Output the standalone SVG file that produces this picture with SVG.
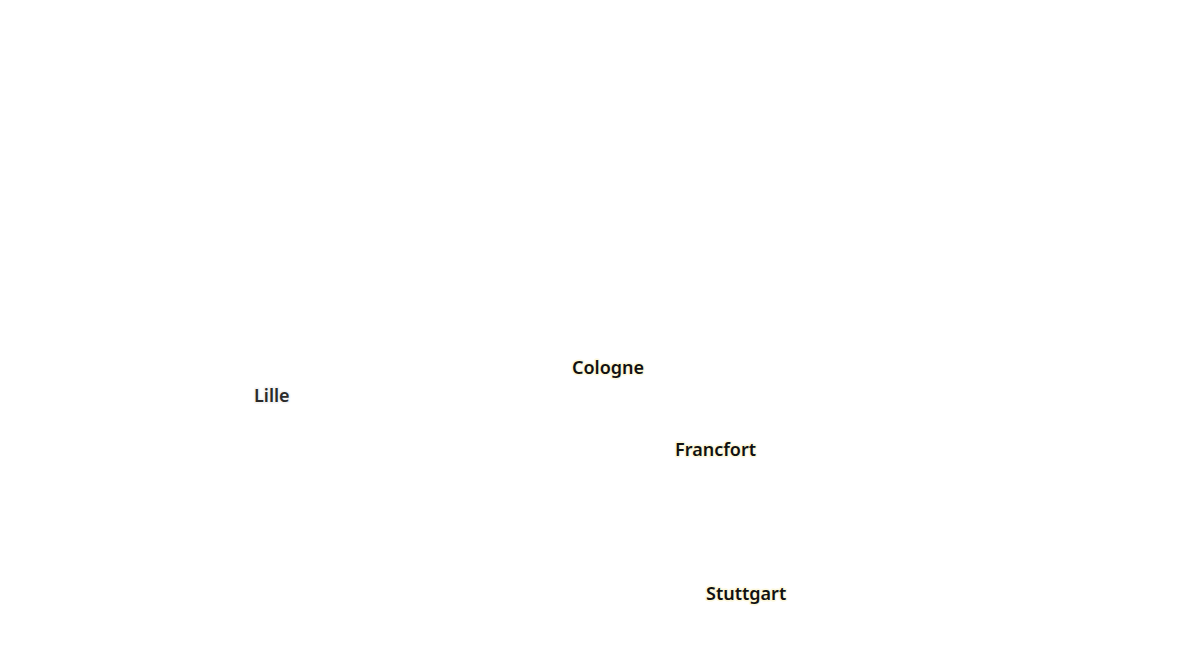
<svg xmlns="http://www.w3.org/2000/svg" width="1200" height="670" viewBox="0 0 1200 670">
<style>
text{font-family:"Noto Sans","Open Sans","Liberation Sans",sans-serif;font-weight:600;font-size:18px;paint-order:stroke;stroke-linejoin:round}
.de{fill:#111111;stroke:#fdf8dc;stroke-width:3}
.fr{fill:#2a2a2a;stroke:#f4f4f4;stroke-width:3}
</style>
<rect width="1200" height="670" fill="#ffffff"/>
<g id="connectors"></g>
<g id="cologne"><text class="de" x="572" y="374">Cologne</text></g>
<g id="lille"><text class="fr" x="254" y="402">Lille</text></g>
<g id="francfort"><text class="de" x="675" y="456">Francfort</text></g>
<g id="stuttgart"><text class="de" x="706" y="600">Stuttgart</text></g>
</svg>
